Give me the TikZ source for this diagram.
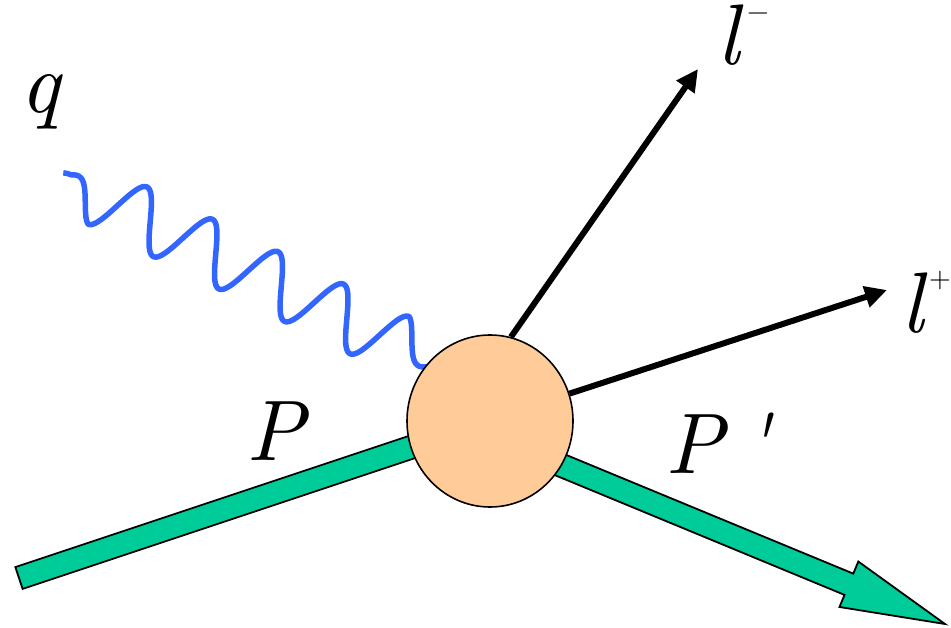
\documentclass[tikz,border=0pt]{standalone}
\usepackage{tikz}
\usetikzlibrary{calc}
\usetikzlibrary{arrows.meta}
\usetikzlibrary{shapes.geometric}
\definecolor{beamgreen}{RGB}{0,204,153}
\definecolor{blobpeach}{RGB}{255,204,153}
\definecolor{photonblue}{RGB}{51,102,255}
\font\lblfont="[lmroman10-italic]" at 86pt
\font\supfont="[lmroman10-regular]" at 28pt

\begin{document}
\begin{tikzpicture}[x=1pt, y=-1pt,
    beam/.style={fill=beamgreen, draw=black, line width=1.8pt, line join=miter},
    blob/.style={ellipse, draw=black, line width=1.6pt, fill=blobpeach,
        minimum width=166pt, minimum height=172pt, inner sep=0pt},
    photon/.style={draw=photonblue, line width=5.5pt, line join=round},
    lepton/.style={line width=6pt, -{Triangle[length=22pt, width=21pt]}},
    lbl/.style={anchor=base west, inner sep=0pt, font=\lblfont},
    declare function={
        wamp(\t) = max(7, min(29.8, 7+0.616*(\t+87.8), 29.8-0.588*(\t-277.7)));
        wp(\t) = wamp(\t)*cos(((\t+14.7)/73.1)*360);
    }]
    \useasboundingbox (0,0) rectangle (951,628);

    % Vertex and beam end points
    \coordinate (c) at (490,421);
    \coordinate (pin) at (19,578);
    \coordinate (po0) at (500,440);
    \coordinate (pout) at (945,624);
    \coordinate (hb) at ($(pout)!104pt!(po0)$);

    % Incoming proton P
    \draw[beam] ($(pin)!11.5pt!90:(c)$) -- ($(c)!11.5pt!-90:(pin)$)
        -- ($(c)!11.5pt!90:(pin)$) -- ($(pin)!11.5pt!-90:(c)$) -- cycle;

    % Outgoing proton P'
    \draw[beam] ($(po0)!11.5pt!90:(pout)$) -- ($(hb)!11.5pt!90:(pout)$)
        -- ($(hb)!24.6pt!90:(pout)$) -- (pout) -- ($(hb)!24.6pt!-90:(pout)$)
        -- ($(hb)!11.5pt!-90:(pout)$) -- ($(po0)!11.5pt!-90:(pout)$) -- cycle;

    % Virtual photon q
    \begin{scope}[shift={(147,220.2)}, rotate=-26.3]
        \draw[photon] plot[domain=-96:330, samples=300] (\x, {-wp(\x)});
    \end{scope}

    % Blob
    \node[blob] (vtx) at (c) {};

    % Lepton pair
    \coordinate (lmtip) at (698,69);
    \coordinate (lptip) at (887,290);
    \draw[lepton] (vtx.76) -- (lmtip);
    \draw[lepton] (vtx.19) -- (lptip);

    % Labels
    \node[lbl] (qlab) at (20,113) {q};
    \node[lbl] (plab) at (246,460) {P};
    \node[lbl] (pplab) at (665,473) {P\kern20pt'};
    \node[lbl] (lmlab) at (717,65) {l\kern8pt\raisebox{44pt}{\supfont −}};
    \node[lbl] (lplab) at (901,333) {l\kern6pt\raisebox{45pt}{\supfont +}};
\end{tikzpicture}
\end{document}
